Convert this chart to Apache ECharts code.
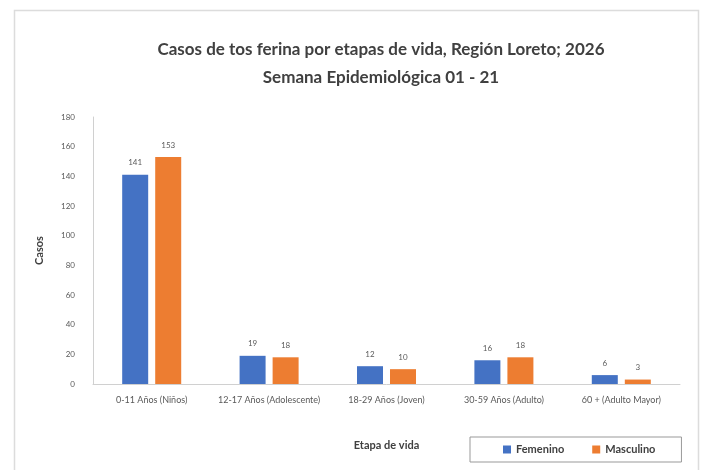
<!DOCTYPE html>
<html>
<head>
<meta charset="utf-8">
<script src="https://cdn.jsdelivr.net/npm/echarts@6/dist/echarts.min.js"></script>
<style>
  html, body { margin: 0; padding: 0; background: #fff; }
  #chart { width: 704px; height: 470px; }
</style>
</head>
<body>
<div id="chart"></div>
<script>
  // 数据
  const categories = ['0-11 Años (Niños)', '12-17 Años (Adolescente)', '18-29 Años (Joven)', '30-59 Años (Adulto)', '60 + (Adulto Mayor)']
  const femenino = [141, 19, 12, 16, 6]
  const masculino = [153, 18, 10, 18, 3]

  const chart = echarts.init(document.getElementById('chart'))
  const textColor = '#595959'

  chart.setOption({
    animation: false,
    textStyle: { fontFamily: 'Lato' },
    // 外框
    graphic: [
      {
        type: 'rect',
        shape: { x: 14.5, y: 10.5, width: 684, height: 470 },
        style: { fill: 'none', stroke: '#dcdcdc', lineWidth: 1.5 }
      }
    ],
    title: {
      text: 'Casos de tos ferina por etapas de vida, Región Loreto; 2026\nSemana Epidemiológica 01 - 21',
      left: 376,
      top: 31,
      textAlign: 'center',
      textStyle: { fontSize: 17, fontWeight: 'bold', color: '#404040', lineHeight: 28 }
    },
    legend: {
      data: ['Femenino', 'Masculino'],
      left: 470,
      top: 437,
      padding: [7, 26, 7, 33],
      itemGap: 28,
      itemWidth: 8,
      itemHeight: 8,
      icon: 'rect',
      borderColor: '#999999',
      borderWidth: 1,
      textStyle: { fontSize: 11, color: '#404040', fontWeight: 'bold' }
    },
    grid: { left: 93, right: 24, top: 117, bottom: 86 },
    xAxis: {
      type: 'category',
      data: categories,
      name: 'Etapa de vida',
      nameLocation: 'middle',
      nameGap: 56,
      nameTextStyle: { fontSize: 11, color: '#404040', fontWeight: 'bold' },
      axisLine: { lineStyle: { color: '#d0d0d0' } },
      axisTick: { show: false },
      axisLabel: { interval: 0, fontSize: 9, color: textColor, margin: 12 }
    },
    yAxis: {
      type: 'value',
      min: 0,
      max: 180,
      interval: 20,
      name: 'Casos',
      nameLocation: 'middle',
      nameGap: 48,
      nameTextStyle: { fontSize: 11, color: '#404040', fontWeight: 'bold' },
      axisLine: { show: true, lineStyle: { color: '#d0d0d0' } },
      axisTick: { show: false },
      splitLine: { show: false },
      axisLabel: { fontSize: 8, color: textColor, margin: 18 }
    },
    series: [
      {
        name: 'Femenino',
        type: 'bar',
        data: femenino,
        barWidth: 26,
        barGap: '27%',
        itemStyle: { color: '#4472c4' },
        label: { show: true, position: 'top', distance: 8, fontSize: 8, color: textColor }
      },
      {
        name: 'Masculino',
        type: 'bar',
        data: masculino,
        barWidth: 26,
        itemStyle: { color: '#ed7d31' },
        label: { show: true, position: 'top', distance: 8, fontSize: 8, color: textColor }
      }
    ]
  })
</script>
</body>
</html>
